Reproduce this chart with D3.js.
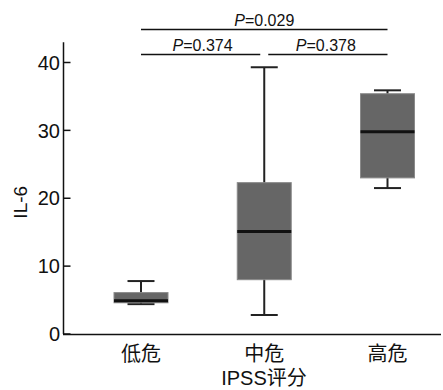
<!DOCTYPE html>
<html>
<head>
<meta charset="utf-8">
<script src="https://cdn.jsdelivr.net/npm/d3@7"></script>
<style>
  html, body { margin: 0; padding: 0; background: #fff; }
  svg { display: block; }
  text { font-family: "Liberation Sans", Arial, "Noto Sans CJK SC", sans-serif; fill: #111; }
</style>
</head>
<body>
<div id="chart"></div>
<script>
// box stats
const categories = ["低危", "中危", "高危"];
const mins    = [4.4, 2.8, 21.5];
const q1s     = [4.6, 8.0, 23.0];
const medians = [4.9, 15.1, 29.8];
const q3s     = [6.1, 22.3, 35.4];
const maxs    = [7.8, 39.3, 35.9];
const yTicks = [0, 10, 20, 30, 40];

// significance brackets: [from, to, label]
const pairs = [
  [0, 1, "0.374"],
  [1, 2, "0.378"],
  [0, 2, "0.029"]
];
const pairLevels = [0, 0, 1];

const width = 443, height = 390;
const svg = d3.select("#chart").append("svg")
  .attr("width", width)
  .attr("height", height);

const x = d3.scalePoint()
  .domain(categories)
  .range([141, 387.5]);

const y = d3.scaleLinear()
  .domain([0, 40])
  .range([334, 62.5]);

const boxW = 54, capW = 27;

// y axis
svg.append("line")
  .attr("x1", 63.5).attr("x2", 63.5)
  .attr("y1", y(0)).attr("y2", y(43))
  .attr("stroke", "#111").attr("stroke-width", 1.5);

svg.selectAll(".ytick")
  .data(yTicks)
  .enter()
  .append("line")
  .attr("x1", 63.5).attr("x2", 70.5)
  .attr("y1", d => y(d)).attr("y2", d => y(d))
  .attr("stroke", "#111").attr("stroke-width", 1.5);

svg.selectAll(".ylab")
  .data(yTicks)
  .enter()
  .append("text")
  .attr("x", 60)
  .attr("y", d => y(d))
  .attr("dy", "0.36em")
  .attr("text-anchor", "end")
  .style("font-size", "20px")
  .text(d => d);

// x axis
svg.append("line")
  .attr("x1", 63).attr("x2", 441)
  .attr("y1", y(0) + 0.5).attr("y2", y(0) + 0.5)
  .attr("stroke", "#111").attr("stroke-width", 1.5);

svg.selectAll(".xlab")
  .data(categories)
  .enter()
  .append("text")
  .attr("x", d => x(d))
  .attr("y", 361)
  .attr("text-anchor", "middle")
  .style("font-size", "20px")
  .text(d => d);

svg.append("text")
  .attr("x", 264)
  .attr("y", 385)
  .attr("text-anchor", "middle")
  .style("font-size", "20px")
  .text("IPSS评分");

svg.append("text")
  .attr("transform", `translate(27, ${y(20) + 4}) rotate(-90)`)
  .attr("text-anchor", "middle")
  .style("font-size", "19px")
  .text("IL-6");

// boxes
const g = svg.selectAll(".box")
  .data(categories)
  .enter()
  .append("g")
  .attr("class", "box");

g.append("line")
  .attr("x1", d => x(d)).attr("x2", d => x(d))
  .attr("y1", (d, i) => y(mins[i])).attr("y2", (d, i) => y(maxs[i]))
  .attr("stroke", "#222").attr("stroke-width", 2);

g.append("line")
  .attr("x1", d => x(d) - capW / 2).attr("x2", d => x(d) + capW / 2)
  .attr("y1", (d, i) => y(maxs[i])).attr("y2", (d, i) => y(maxs[i]))
  .attr("stroke", "#222").attr("stroke-width", 2);

g.append("line")
  .attr("x1", d => x(d) - capW / 2).attr("x2", d => x(d) + capW / 2)
  .attr("y1", (d, i) => y(mins[i])).attr("y2", (d, i) => y(mins[i]))
  .attr("stroke", "#222").attr("stroke-width", 2);

g.append("rect")
  .attr("x", d => x(d) - boxW / 2)
  .attr("y", (d, i) => y(q3s[i]))
  .attr("width", boxW)
  .attr("height", (d, i) => y(q1s[i]) - y(q3s[i]))
  .attr("fill", "#666")
  .attr("stroke", "#8a8a8a")
  .attr("stroke-width", 1);

g.append("line")
  .attr("x1", d => x(d) - boxW / 2).attr("x2", d => x(d) + boxW / 2)
  .attr("y1", (d, i) => y(medians[i])).attr("y2", (d, i) => y(medians[i]))
  .attr("stroke", "#111").attr("stroke-width", 3);

// brackets
const levelY = [54.5, 29.5];
const br = svg.selectAll(".bracket")
  .data(pairs)
  .enter()
  .append("g");

br.append("line")
  .attr("x1", (d, i) => x(categories[d[0]]) + (d[0] === 1 && pairLevels[i] === 0 ? 4 : 0))
  .attr("x2", (d, i) => x(categories[d[1]]) - (d[1] === 1 && pairLevels[i] === 0 ? 4 : 0))
  .attr("y1", (d, i) => levelY[pairLevels[i]])
  .attr("y2", (d, i) => levelY[pairLevels[i]])
  .attr("stroke", "#111").attr("stroke-width", 1.5);

const pt = br.append("text")
  .attr("x", d => (x(categories[d[0]]) + x(categories[d[1]])) / 2)
  .attr("y", (d, i) => levelY[pairLevels[i]] - 4)
  .attr("text-anchor", "middle")
  .style("font-size", "16px");
pt.append("tspan").style("font-style", "italic").text("P");
pt.append("tspan").text(d => "=" + d[2]);
</script>
</body>
</html>
